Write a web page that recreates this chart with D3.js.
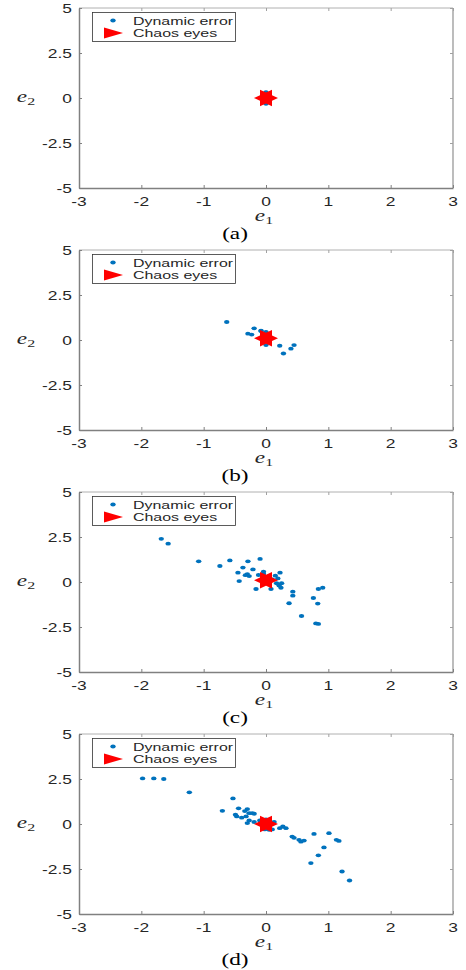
<!DOCTYPE html>
<html>
<head>
<style>
  body { margin: 0; background: #fff; }
</style>
<script src="https://d3js.org/d3.v7.min.js"></script>
</head>
<body>
<svg width="466" height="970"></svg>
<script>
// axis ranges and tick labels
var xTicks = [-3, -2, -1, 0, 1, 2, 3];
var yTicks = [-5, -2.5, 0, 2.5, 5];
var captions = ["(a)", "(b)", "(c)", "(d)"];
var legendLabels = ["Dynamic error", "Chaos eyes"];

// dynamic error points, panel by panel
var e1A = [0, 0, 0.02, -0.02, 0.01, -0.01];
var e2A = [0.32, -0.32, 0.1, -0.1, 0.05, -0.05];

var e1B = [-0.63, -0.19, -0.29, -0.23, -0.08, -0.08, 0, 0, 0.22, 0.45, 0.4, 0.28, 0.05, -0.05];
var e2B = [1.0, 0.65, 0.35, 0.3, 0.5, 0.52, 0.45, -0.28, -0.32, -0.28, -0.48, -0.75, 0.1, 0.2];

var e1C = [-1.68, -1.57, -1.08, -0.74, -0.58, -0.29, -0.095, -0.37, -0.21, -0.45, -0.3, -0.27, -0.33,
           -0.43, -0.16, -0.12, -0.04, -0.04, 0.225, 0.15, 0.19, 0.08, 0.17, 0.21, 0.24, 0.25,
           0.43, 0.43, 0.37, 0.57, 0.8, 0.84, 0.76, 0.83, 0.84, 0.91, 0.05, -0.05, 0.1];
var e2C = [2.4, 2.13, 1.15, 0.89, 1.2, 1.15, 1.28, 0.8, 0.7, 0.52, 0.44, 0.33, 0.38,
           0.05, -0.39, 0.39, 0.57, 0.45, 0.52, 0.35, 0.2, -0.39, -0.07, -0.2, -0.32, -0.07,
           -0.54, -0.76, -1.18, -1.89, -2.3, -2.33, -0.89, -1.2, -0.39, -0.32, -0.1, 0.25, 0.15];

var e1D = [-1.98, -1.8, -1.64, -1.23, -0.53, -0.7, -0.44, -0.49, -0.47, -0.39, -0.34, -0.3, -0.27,
           -0.22, -0.19, -0.32, -0.3, -0.27, -0.19, -0.02, 0.05, 0.1, 0.13, 0.22, 0.27, 0.32,
           0.42, 0.45, 0.53, 0.56, 0.61, 0.77, 1.01, 1.13, 1.17, 0.93, 0.84, 0.72, 1.22, 1.34, -0.1, 0.0];
var e2D = [2.53, 2.53, 2.5, 1.76, 1.42, 0.73, 0.87, 0.52, 0.42, 0.35, 0.72, 0.83, 0.6,
           0.6, 0.57, 0.42, 0.05, 0.2, 0.11, -0.3, -0.32, -0.3, 0.11, -0.23, -0.14, -0.23,
           -0.7, -0.77, -0.88, -0.98, -0.92, -0.55, -0.51, -0.88, -0.94, -1.3, -1.74, -2.17, -2.64, -3.14, 0.2, 0.25];

// chaos eye location per panel
var eyeX = [0, 0, 0, 0];
var eyeY = [0, 0.1, 0.1, 0];

var panels = [
  { e1: e1A, e2: e2A },
  { e1: e1B, e2: e2B },
  { e1: e1C, e2: e2C },
  { e1: e1D, e2: e2D }
];

var svg = d3.select("svg");
var left = 79, plotW = 374, plotH = 180;
var panelTop = [8, 250, 492, 734];
var axisGray = "#808080";
var textCol = "#262626";
var sx = 1.45; // horizontal stretch of the source picture

function stretchedText(g, x, y, str, size, anchor, family, style) {
  return g.append("text")
    .attr("transform", "translate(" + x + "," + y + ") scale(" + sx + ",1)")
    .attr("text-anchor", anchor)
    .attr("font-family", family)
    .attr("font-style", style || "normal")
    .attr("font-size", size)
    .attr("fill", textCol)
    .text(str);
}

function starPath(R) {
  var pts = [];
  for (var i = 0; i < 12; i++) {
    var a = i * Math.PI / 6;
    var r = i % 2 === 0 ? R : R / Math.sqrt(3);
    pts.push([Math.cos(a) * r * 1.25, Math.sin(a) * r]);
  }
  return "M" + pts.map(function(p) { return p[0].toFixed(2) + "," + p[1].toFixed(2); }).join("L") + "Z";
}

panels.forEach(function(p, i) {
  var g = svg.append("g").attr("transform", "translate(0," + panelTop[i] + ")");
  var x = d3.scaleLinear().domain([-3, 3]).range([left, left + plotW]);
  var y = d3.scaleLinear().domain([-5, 5]).range([plotH, 0]);

  // box: top and right in light gray
  g.append("line").attr("x1", x(-3)).attr("x2", x(3)).attr("y1", y(5)).attr("y2", y(5))
    .attr("stroke", "#b0b0b0").attr("stroke-width", 1);
  g.append("line").attr("x1", x(3)).attr("x2", x(3)).attr("y1", y(5)).attr("y2", y(-5))
    .attr("stroke", "#909090").attr("stroke-width", 1.2);

  // inward ticks on top / right
  g.append("g").attr("transform", "translate(0," + y(5) + ")")
    .call(d3.axisTop(x).tickValues(xTicks).tickSize(-3).tickFormat(""))
    .call(function(a) { a.select(".domain").remove(); a.selectAll("line").attr("stroke", "#a0a0a0"); });
  g.append("g").attr("transform", "translate(" + x(3) + ",0)")
    .call(d3.axisRight(y).tickValues(yTicks).tickSize(-3).tickFormat(""))
    .call(function(a) { a.select(".domain").remove(); a.selectAll("line").attr("stroke", "#a0a0a0"); });

  // bottom axis
  var xa = g.append("g").attr("transform", "translate(0," + plotH + ")")
    .call(d3.axisBottom(x).tickValues(xTicks).tickSizeInner(-3).tickSizeOuter(0).tickFormat(""));
  xa.select(".domain").attr("stroke", axisGray).attr("stroke-width", 1.5);
  xa.selectAll("line").attr("stroke", axisGray);
  xTicks.forEach(function(t) {
    stretchedText(g, x(t), plotH + 18, String(t), 12, "middle", "Liberation Sans, Arial, sans-serif");
  });

  // left axis
  var ya = g.append("g").attr("transform", "translate(" + left + ",0)")
    .call(d3.axisLeft(y).tickValues(yTicks).tickSizeInner(-3).tickSizeOuter(0).tickFormat(""));
  ya.select(".domain").attr("stroke", axisGray).attr("stroke-width", 1.5);
  ya.selectAll("line").attr("stroke", axisGray);
  yTicks.forEach(function(t) {
    stretchedText(g, left - 7, y(t) + 4.5, String(t), 12, "end", "Liberation Sans, Arial, sans-serif");
  });

  // axis labels
  var xl = stretchedText(g, x(0) - 2, plotH + 33, "", 16, "middle", "Liberation Serif, Times New Roman, serif", "italic");
  xl.append("tspan").text("e");
  xl.append("tspan").attr("font-size", 11).attr("font-style", "normal").attr("dy", 3).text("1");
  var yl = stretchedText(g, 26, y(0) + 4, "", 16, "middle", "Liberation Serif, Times New Roman, serif", "italic");
  yl.append("tspan").text("e");
  yl.append("tspan").attr("font-size", 11).attr("font-style", "normal").attr("dy", 3).text("2");

  // caption
  stretchedText(g, 235, plotH + 51, captions[i], 16, "middle", "Liberation Serif, Times New Roman, serif")
    .attr("fill", "#000");

  // dynamic error dots
  g.selectAll(".dot").data(d3.range(p.e1.length)).enter().append("ellipse")
    .attr("class", "dot")
    .attr("cx", function(k) { return x(p.e1[k]); })
    .attr("cy", function(k) { return y(p.e2[k]); })
    .attr("rx", 2.7).attr("ry", 1.9)
    .attr("fill", "#0072BD");

  // chaos eye star
  g.append("path")
    .attr("d", starPath(9.6))
    .attr("transform", "translate(" + x(eyeX[i]) + "," + y(eyeY[i]) + ")")
    .attr("fill", "#ff0000");

  // legend
  var lg = g.append("g");
  lg.append("rect").attr("x", 92.5).attr("y", 4.5).attr("width", 143).attr("height", 29)
    .attr("fill", "#fff").attr("stroke", "#333").attr("stroke-width", 0.8);
  lg.append("ellipse").attr("cx", 113).attr("cy", 12.5).attr("rx", 2.7).attr("ry", 1.9).attr("fill", "#0072BD");
  lg.append("path").attr("d", "M104,19.5L123,25L104,30.5Z").attr("fill", "#ff0000");
  stretchedText(lg, 133, 16.5, legendLabels[0], 11, "start", "Liberation Sans, Arial, sans-serif");
  stretchedText(lg, 133, 29, legendLabels[1], 11, "start", "Liberation Sans, Arial, sans-serif");
});
</script>
</body>
</html>
